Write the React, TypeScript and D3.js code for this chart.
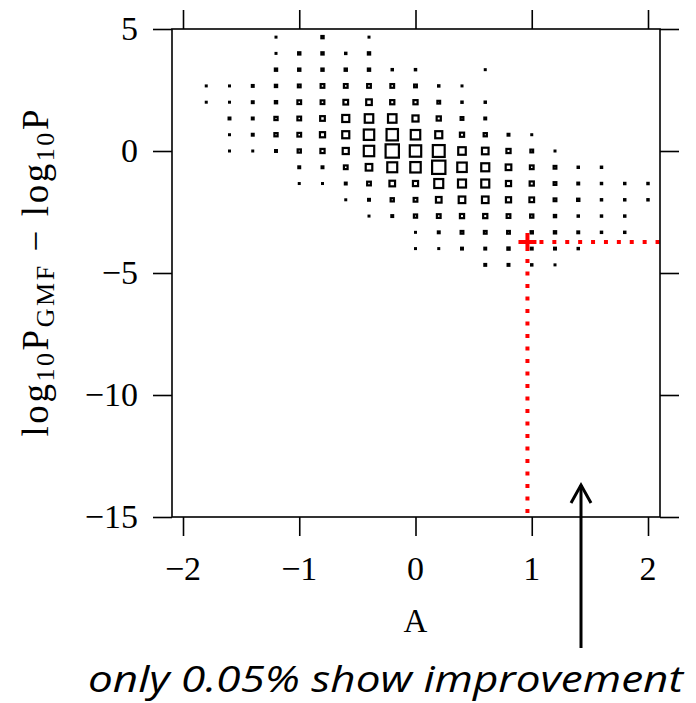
import React, { useEffect, useRef } from 'react';
import * as d3 from 'd3';

// bin centres
const aBins = [-1.8, -1.6, -1.4, -1.2, -1.0, -0.8, -0.6, -0.4, -0.2, 0.0, 0.2, 0.4, 0.6, 0.8, 1.0, 1.2, 1.4, 1.6, 1.8, 2.0];
const dBins = [4.667, 4.0, 3.333, 2.667, 2.0, 1.333, 0.667, 0.0, -0.667, -1.333, -2.0, -2.667, -3.333, -4.0, -4.667];

// relative frequency per cell (square side), one row per dBins entry
const freq = [
  [0, 0, 0, 2, 0, 3.5, 0, 2, 0, 0, 0, 0, 0, 0, 0, 0, 0, 0, 0, 0],
  [0, 0, 0, 2, 3.5, 3.5, 2.5, 3.5, 0, 0, 0, 0, 0, 0, 0, 0, 0, 0, 0, 0],
  [0, 0, 0, 3.5, 3.5, 3.5, 3.5, 3.5, 2.5, 2.5, 0, 0, 2, 0, 0, 0, 0, 0, 0, 0],
  [2, 2, 3, 3.5, 4, 5, 5, 5, 5, 4, 2.5, 2, 0, 0, 0, 0, 0, 0, 0, 0],
  [2, 2, 3, 3.5, 5, 5, 6, 7, 5.5, 5.5, 4, 2.5, 2.5, 0, 0, 0, 0, 0, 0, 0],
  [0, 3, 3, 4.5, 5, 6, 8.5, 10, 10, 7.5, 5.5, 4, 3, 0, 0, 0, 0, 0, 0, 0],
  [0, 2, 3, 4.5, 5, 6.5, 8.5, 12, 13, 11, 8.5, 5.5, 4.5, 3, 2, 0, 0, 0, 0, 0],
  [0, 2, 2, 3, 4.5, 5.5, 7.5, 12, 15, 13, 13.5, 9, 8, 5.5, 4, 2, 0, 0, 0, 0],
  [0, 0, 0, 0, 3, 3, 5, 8, 11.5, 12, 15, 11, 9.5, 7, 5, 4, 2.5, 2.5, 0, 0],
  [0, 0, 0, 0, 2, 2, 3, 5, 7, 6.5, 10.5, 9.5, 9.5, 6.5, 5.5, 4, 3, 2.5, 2.5, 2.5],
  [0, 0, 0, 0, 0, 0, 2, 3, 4.5, 5, 7, 8, 8, 6.5, 6, 4, 3.5, 2.5, 2.5, 2.5],
  [0, 0, 0, 0, 0, 0, 0, 2, 3, 4.5, 5, 5.5, 5.5, 5, 4.5, 3.5, 2.5, 2.5, 2.5, 0],
  [0, 0, 0, 0, 0, 0, 0, 0, 0, 2, 3, 4, 4, 4, 3.5, 3.5, 3, 2.5, 2.5, 0],
  [0, 0, 0, 0, 0, 0, 0, 0, 0, 2, 2, 3, 3, 3.5, 3, 3, 2.5, 0, 0, 0],
  [0, 0, 0, 0, 0, 0, 0, 0, 0, 0, 0, 0, 3, 3, 2.5, 2, 0, 0, 0, 0],
];

const xTicks = [-2, -1, 0, 1, 2];
const yTicks = [5, 0, -5, -10, -15];

// the highlighted case
const markerA = 0.963;
const markerD = -3.73;

const note = 'only 0.05% show improvement';

const App = () => {
  const svgRef = useRef(null);

  useEffect(() => {
    const width = 696, height = 703;
    const svg = d3.select(svgRef.current);
    svg.selectAll('*').remove();
    svg.attr('width', width).attr('height', height);

    const x = d3.scaleLinear().domain([-2, 2]).range([183, 648]);
    const y = d3.scaleLinear().domain([-15, 5]).range([517, 29]);
    const size = d3.scaleLinear().domain([2, 15]).range([3, 15.5]);
    const left = 172, right = 660;
    const font = '"Liberation Serif", "DejaVu Serif", serif';
    const sw = s => Math.min(2.2, s / 2);

    // cells
    const cells = [];
    dBins.forEach((d, i) => aBins.forEach((a, j) => {
      if (freq[i][j] > 0) cells.push({ a, d, s: size(freq[i][j]) });
    }));
    svg.append('g')
      .selectAll('rect')
      .data(cells)
      .join('rect')
      .attr('x', c => x(c.a) - (c.s - sw(c.s)) / 2)
      .attr('y', c => y(c.d) - (c.s - sw(c.s)) / 2)
      .attr('width', c => c.s - sw(c.s))
      .attr('height', c => c.s - sw(c.s))
      .attr('fill', 'none')
      .attr('stroke', '#000')
      .attr('stroke-width', c => sw(c.s));

    // red guides
    const mx = x(markerA), my = y(markerD);
    const red = svg.append('g').attr('stroke', '#f00').attr('stroke-width', 4).attr('fill', 'none');
    red.append('line').attr('x1', mx + 12).attr('x2', right).attr('y1', my).attr('y2', my)
      .attr('stroke-dasharray', '4 8.9');
    red.append('line').attr('x1', mx).attr('x2', mx).attr('y1', my + 17).attr('y2', y(-15))
      .attr('stroke-dasharray', '4 8.5');
    red.append('line').attr('x1', mx - 9).attr('x2', mx + 9).attr('y1', my).attr('y2', my);
    red.append('line').attr('x1', mx).attr('x2', mx).attr('y1', my - 9).attr('y2', my + 9);

    // frame and axes
    svg.append('rect')
      .attr('x', left).attr('y', y(5))
      .attr('width', right - left).attr('height', y(-15) - y(5))
      .attr('fill', 'none').attr('stroke', '#000').attr('stroke-width', 1.6);

    const axes = [
      [d3.axisBottom(x).tickValues(xTicks), `translate(0,${y(-15)})`],
      [d3.axisTop(x).tickValues(xTicks), `translate(0,${y(5)})`],
      [d3.axisLeft(y).tickValues(yTicks), `translate(${left},0)`],
      [d3.axisRight(y).tickValues(yTicks), `translate(${right},0)`],
    ];
    axes.forEach(([ax, t]) => {
      const g = svg.append('g').attr('transform', t)
        .call(ax.tickSize(19).tickSizeOuter(0).tickFormat(() => ''));
      g.select('.domain').remove();
      g.selectAll('line').attr('stroke', '#000').attr('stroke-width', 1.6);
    });

    const fmt = d3.format('d');
    svg.append('g')
      .selectAll('text')
      .data(xTicks)
      .join('text')
      .attr('x', d => x(d)).attr('y', 580)
      .attr('text-anchor', 'middle')
      .attr('font-family', font).attr('font-size', 34)
      .text(d => fmt(d));
    svg.append('g')
      .selectAll('text')
      .data(yTicks)
      .join('text')
      .attr('x', 138).attr('y', d => y(d) + 11)
      .attr('text-anchor', 'end')
      .attr('font-family', font).attr('font-size', 34)
      .text(d => fmt(d));

    svg.append('text')
      .attr('x', x(0)).attr('y', 632)
      .attr('text-anchor', 'middle')
      .attr('font-family', font).attr('font-size', 33)
      .text('A');

    const yl = svg.append('text')
      .attr('transform', `translate(48,${(y(5) + y(-15)) / 2}) rotate(-90)`)
      .attr('text-anchor', 'middle')
      .attr('font-family', font).attr('font-size', 37)
      .attr('textLength', 327).attr('lengthAdjust', 'spacing');
    const parts = [
      ['log', 0], ['10', 1], ['P', 0], ['GMF', 1], [' \u2212 log', 0], ['10', 1], ['P', 0],
    ];
    let low = false;
    parts.forEach(([t, sub]) => {
      const sp = yl.append('tspan').text(t);
      if (sub && !low) { sp.attr('dy', 6).attr('font-size', 26); low = true; }
      else if (sub) { sp.attr('font-size', 26); }
      else if (low) { sp.attr('dy', -6); low = false; }
    });

    // annotation arrow and note
    const ax0 = 581;
    const arr = svg.append('g').attr('stroke', '#000').attr('stroke-width', 3).attr('fill', 'none');
    arr.append('line').attr('x1', ax0).attr('x2', ax0).attr('y1', 485).attr('y2', 648);
    arr.append('path').attr('d', `M${ax0 - 10},503 L${ax0},485 L${ax0 + 10},503`)
      .attr('stroke-linejoin', 'miter');

    svg.append('text')
      .attr('x', 88).attr('y', 692)
      .attr('font-family', '"Open Sans", "Noto Sans", sans-serif')
      .attr('font-style', 'italic').attr('font-size', 37)
      .attr('textLength', 595).attr('lengthAdjust', 'spacingAndGlyphs')
      .text(note);
  }, []);

  return <svg ref={svgRef} style={{ position: 'absolute', left: 0, top: 0 }}></svg>;
};

export default App;
